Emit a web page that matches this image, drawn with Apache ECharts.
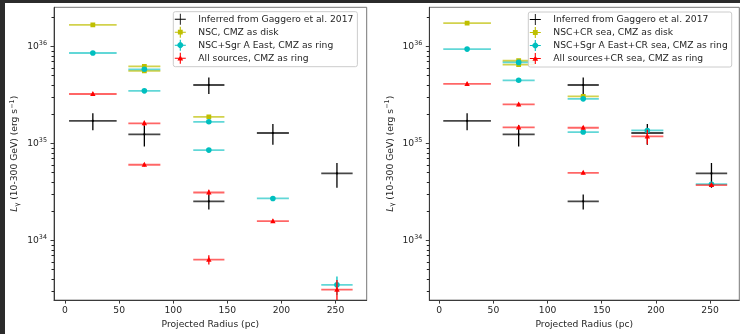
<!DOCTYPE html>
<html><head><meta charset="utf-8">
<script src="https://cdn.jsdelivr.net/npm/echarts@6/dist/echarts.min.js"></script>
<style>html,body{margin:0;padding:0;background:#fff}#c{width:740px;height:334px}</style>
</head><body><div id="c"></div>
<script>
// ---- axis ticks ----
const xTicks = [0, 50, 100, 150, 200, 250];
const yDecades = [34, 35, 36];          // major ticks: 10^34, 10^35, 10^36

// ---- Inferred from Gaggero et al. 2017 (both panels) ----
const gagX    = [25.7, 73.3, 132.9, 132.9, 192.1, 251.3];
const gagXErr = [22.0, 14.8, 14.4, 14.4, 14.8, 14.5];
const gagY    = [1.71e35, 1.24e35, 4.0e35, 2.53e34, 1.28e35, 4.9e34];
const gagYErr = [0.34e35, 0.31e35, 0.77e35, 0.45e34, 0.31e35, 1.4e34];

// ---- shared bin positions of the model points ----
const diskX    = [25.7, 73.3, 73.3, 132.9];
const diskXErr = [22.0, 14.8, 14.8, 14.4];
const ringX    = [25.7, 73.3, 73.3, 132.9, 132.9, 192.1, 251.3];
const ringXErr = [22.0, 14.8, 14.8, 14.4, 14.4, 14.8, 14.5];

// ---- left panel ----
const diskY    = [1.67e36, 6.22e35, 5.60e35, 1.88e35];
const diskYErr = [0.05e36, 0.25e35, 0.25e35, 0.08e35];
const sgrY     = [8.55e35, 5.81e35, 3.48e35, 1.67e35, 8.53e34, 2.71e34, 3.49e33];
const sgrYErr  = [0.3e35, 0.2e35, 0.12e35, 0.06e35, 0.3e34, 0.1e34, 0.75e33];
const allY     = [3.23e35, 1.61e35, 6.03e34, 3.12e34, 6.34e33, 1.58e34, 3.11e33];
const allYErr  = [0.12e35, 0.1e35, 0.25e34, 0.2e34, 0.7e33, 0.06e34, 0.8e33];

// ---- right panel (+CR sea) ----
const diskCrY    = [1.74e36, 7.11e35, 6.49e35, 3.06e35];
const diskCrYErr = [0.05e36, 0.25e35, 0.25e35, 0.1e35];
const sgrCrY     = [9.38e35, 6.84e35, 4.47e35, 2.88e35, 1.31e35, 1.36e35, 3.80e34];
const sgrCrYErr  = [0.3e35, 0.2e35, 0.15e35, 0.1e35, 0.05e35, 0.08e35, 0.15e34];
const allCrY     = [4.10e35, 2.52e35, 1.46e35, 1.45e35, 4.98e34, 1.18e35, 3.72e34];
const allCrYErr  = [0.15e35, 0.1e35, 0.06e35, 0.06e35, 0.2e34, 0.2e35, 0.15e34];

// ---- names ----
const nameGag = 'Inferred from Gaggero et al. 2017';
const namesLeft  = ['NSC, CMZ as disk', 'NSC+Sgr A East, CMZ as ring', 'All sources, CMZ as ring'];
const namesRight = ['NSC+CR sea, CMZ as disk', 'NSC+Sgr A East+CR sea, CMZ as ring', 'All sources+CR sea, CMZ as ring'];

const FONT = 'DejaVu Sans';
const TXT = '#262626';
const yMin = 33.385, yMax = 36.403;

const STY = {
  black:  {color: '#000000', h: 'rgba(0,0,0,0.72)',      v: '#000000'},
  yellow: {color: '#bfbf00', h: 'rgba(191,191,0,0.7)',   v: '#bfbf00'},
  cyan:   {color: '#00bfbf', h: 'rgba(0,191,191,0.62)',  v: '#00bfbf'},
  red:    {color: '#ff0000', h: 'rgba(255,0,0,0.6)',     v: '#ff0000'}
};
const ICON = {
  black:  'path://M0,4.6L10,4.6L10,5.4L0,5.4ZM4.6,0L5.4,0L5.4,10L4.6,10Z',
  yellow: 'path://M0,4.5L10,4.5L10,5.5L0,5.5ZM4.5,0L5.5,0L5.5,10L4.5,10ZM2.8,2.8L7.2,2.8L7.2,7.2L2.8,7.2Z',
  cyan:   'path://M0,4.5L10,4.5L10,5.5L0,5.5ZM4.5,0L5.5,0L5.5,10L4.5,10ZM4,2.4L6,2.4L7.6,4L7.6,6L6,7.6L4,7.6L2.4,6L2.4,4Z',
  red:    'path://M0,4.5L10,4.5L10,5.5L0,5.5ZM4.5,0L5.5,0L5.5,10L4.5,10ZM5,2.2L7.6,7L2.4,7Z'
};

function build(xs, xe, ys, ye) {
  return xs.map((x, i) => {
    const lo = ys[i] - ye[i];
    return [x, Math.log10(ys[i]), xe[i], lo > 0 ? Math.log10(lo) : yMin - 1, Math.log10(ys[i] + ye[i])];
  });
}

function marker(kind, c) {
  const s = STY[kind];
  if (kind === 'yellow') return {type: 'rect', shape: {x: c[0] - 2.4, y: c[1] - 2.4, width: 4.8, height: 4.8}, style: {fill: s.color}};
  if (kind === 'cyan') return {type: 'circle', shape: {cx: c[0], cy: c[1], r: 2.8}, style: {fill: s.color}};
  if (kind === 'red') return {type: 'polygon', shape: {points: [[c[0], c[1] - 3], [c[0] + 2.7, c[1] + 2], [c[0] - 2.7, c[1] + 2]]}, style: {fill: s.color}};
  return {type: 'circle', shape: {cx: c[0], cy: c[1], r: 1.1}, style: {fill: '#000'}};
}

function makeSeries(name, kind, panel, data) {
  const s = STY[kind];
  return {
    type: 'custom', name: name, xAxisIndex: panel, yAxisIndex: panel * 2,
    clip: true, itemStyle: {color: s.color},
    encode: {x: 0, y: 1},
    data: data,
    renderItem: function (params, api) {
      const x = api.value(0), ly = api.value(1), xe = api.value(2), lo = api.value(3), hi = api.value(4);
      const pL = api.coord([x - xe, ly]), pR = api.coord([x + xe, ly]);
      const pT = api.coord([x, hi]), pB = api.coord([x, lo]);
      const c = api.coord([x, ly]);
      return {type: 'group', children: [
        {type: 'line', shape: {x1: pL[0], y1: pL[1], x2: pR[0], y2: pR[1]}, style: {stroke: s.h, lineWidth: 1.8}},
        {type: 'line', shape: {x1: pT[0], y1: pT[1], x2: pB[0], y2: pB[1]}, style: {stroke: s.v, lineWidth: 1.3}},
        marker(kind, c)
      ]};
    }
  };
}

const minorTicks = [];
for (let n = 33; n <= 36; n++) for (let k = 2; k <= 9; k++) {
  const v = n + Math.log10(k);
  if (v > yMin && v < yMax) minorTicks.push(v);
}

const grids = [
  {left: 54, top: 7.3, width: 312.7, height: 299.4},
  {left: 429.3, top: 7.3, width: 310, height: 299.4}
];
const xRanges = [[-10.2, 278.8], [-9.2, 277]];

const yName = '{it|L}{sub|γ}{n| (10-300 GeV) (erg s}{sup|−1}{n|)}';
const nameRich = {
  it: {fontFamily: FONT, fontSize: 9.2, fontStyle: 'italic', color: TXT, lineHeight: 12},
  n: {fontFamily: FONT, fontSize: 9.2, color: TXT, lineHeight: 12},
  sub: {fontFamily: FONT, fontSize: 6.5, color: TXT, verticalAlign: 'bottom', lineHeight: 7},
  sup: {fontFamily: FONT, fontSize: 6.5, color: TXT, verticalAlign: 'top', lineHeight: 6}
};

const xAxes = [], yAxes = [];
grids.forEach((g, i) => {
  xAxes.push({
    type: 'value', gridIndex: i, min: xRanges[i][0], max: xRanges[i][1],
    name: 'Projected Radius (pc)', nameLocation: 'middle', nameGap: 16.5,
    nameTextStyle: {fontFamily: FONT, fontSize: 9.2, color: TXT},
    axisLine: {show: true, onZero: false, lineStyle: {color: '#3a3a3a', width: 1}},
    axisTick: {show: true, length: 3.5, customValues: xTicks, lineStyle: {color: '#3a3a3a'}},
    axisLabel: {customValues: xTicks, margin: 6, fontFamily: FONT, fontSize: 9.2, color: TXT},
    splitLine: {show: false}
  });
  yAxes.push({
    type: 'value', gridIndex: i, min: yMin, max: yMax,
    name: yName, nameLocation: 'middle', nameRotate: 90, nameGap: 33,
    nameTextStyle: {rich: nameRich},
    axisLine: {show: true, onZero: false, lineStyle: {color: '#3a3a3a', width: 1}},
    axisTick: {show: true, length: 3.5, customValues: yDecades, lineStyle: {color: '#3a3a3a'}},
    axisLabel: {customValues: yDecades, margin: 7,
      formatter: v => '{b|10}{s|' + v + '}',
      rich: {
        b: {fontFamily: FONT, fontSize: 9.2, color: TXT, lineHeight: 12},
        s: {fontFamily: FONT, fontSize: 6.4, color: TXT, verticalAlign: 'top', lineHeight: 6}
      }},
    splitLine: {show: false}
  });
  yAxes.push({
    type: 'value', gridIndex: i, min: yMin, max: yMax, position: 'left', offset: 0,
    axisLine: {show: false, onZero: false},
    axisTick: {show: true, length: 2.5, customValues: minorTicks, lineStyle: {color: '#222222', width: 1}},
    axisLabel: {show: false}, splitLine: {show: false}
  });
});

const series = [
  makeSeries(nameGag, 'black', 0, build(gagX, gagXErr, gagY, gagYErr)),
  makeSeries(namesLeft[0], 'yellow', 0, build(diskX, diskXErr, diskY, diskYErr)),
  makeSeries(namesLeft[1], 'cyan', 0, build(ringX, ringXErr, sgrY, sgrYErr)),
  makeSeries(namesLeft[2], 'red', 0, build(ringX, ringXErr, allY, allYErr)),
  makeSeries(nameGag, 'black', 1, build(gagX, gagXErr, gagY, gagYErr)),
  makeSeries(namesRight[0], 'yellow', 1, build(diskX, diskXErr, diskCrY, diskCrYErr)),
  makeSeries(namesRight[1], 'cyan', 1, build(ringX, ringXErr, sgrCrY, sgrCrYErr)),
  makeSeries(namesRight[2], 'red', 1, build(ringX, ringXErr, allCrY, allCrYErr))
];

function legend(names, left, top) {
  const kinds = ['black', 'yellow', 'cyan', 'red'];
  return {
    orient: 'vertical', left: left, top: top,
    itemWidth: 20, itemHeight: 11, itemGap: 2, symbolKeepAspect: true,
    padding: [2, 4, 3, 1.5],
    backgroundColor: 'rgba(255,255,255,0.85)', borderColor: '#cccccc', borderWidth: 1, borderRadius: 2,
    textStyle: {fontFamily: FONT, fontSize: 9.2, color: TXT, padding: [0, 0, 0, 3]},
    selectedMode: false,
    data: names.map((n, i) => ({name: n, icon: ICON[kinds[i]]}))
  };
}

const chart = echarts.init(document.getElementById('c'), null, {renderer: 'canvas'});
chart.setOption({
  animation: false,
  backgroundColor: '#ffffff',
  grid: grids.map(g => Object.assign({show: true, borderColor: '#777', borderWidth: 1, backgroundColor: 'transparent'}, g)),
  xAxis: xAxes,
  yAxis: yAxes,
  legend: [
    legend([nameGag].concat(namesLeft), 173.3, 11.7),
    legend([nameGag].concat(namesRight), 528.3, 12)
  ],
  graphic: [
    {type: 'rect', left: 0, top: 0, shape: {width: 740, height: 3}, style: {fill: '#2b2b2b'}, z: 100},
    {type: 'rect', left: 0, top: 0, shape: {width: 5, height: 334}, style: {fill: '#2b2b2b'}, z: 100}
  ],
  series: series
});
</script>
</body></html>
